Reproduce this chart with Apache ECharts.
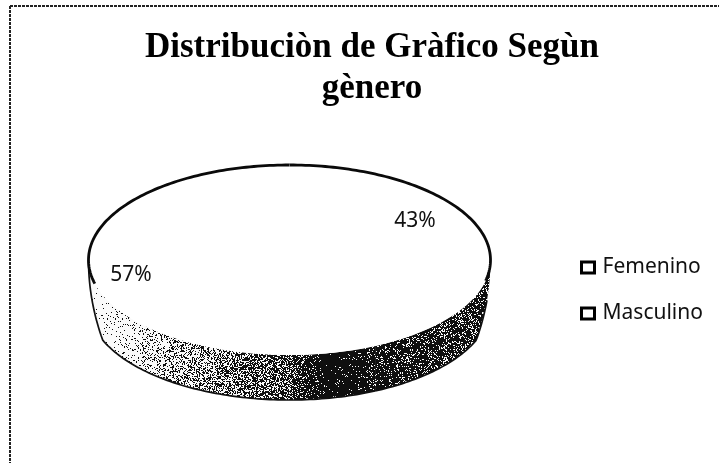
<!DOCTYPE html>
<html><head><meta charset="utf-8">
<style>html,body{margin:0;padding:0;background:#fff}#c{width:719px;height:463px}</style>
<script src="https://cdn.jsdelivr.net/npm/echarts@6/dist/echarts.min.js"></script>
</head><body><div id="c"></div>
<script>
const categories = ['Femenino', 'Masculino'];
const shares = [43, 57];
const shareLabels = ['43%', '57%'];
const titleText = 'Distribuciòn de Gràfico Segùn\ngènero';

// layout / style only
const CX = 289.5, CY = 260, RX = 201, RY = 95, DEPTH = 45;
const LABEL_POS = [[415, 221], [131, 275]];
const SHADE_X = [80, 110, 135, 170, 230, 290, 325, 400, 470, 495];
const SHADE_V = [0.03, 0.06, 0.14, 0.3, 0.52, 0.68, 0.97, 0.84, 0.76, 0.8];

function shadeAt(x) {
  for (let i = 1; i < SHADE_X.length; i++) {
    if (x <= SHADE_X[i]) {
      const t = (x - SHADE_X[i - 1]) / (SHADE_X[i] - SHADE_X[i - 1]);
      return SHADE_V[i - 1] + Math.max(0, t) * (SHADE_V[i] - SHADE_V[i - 1]);
    }
  }
  return SHADE_V[SHADE_V.length - 1];
}
// stippled scan texture (a fixed hash, purely a fill texture)
function stipple() {
  const cv = document.createElement('canvas');
  cv.width = 719; cv.height = 463;
  const g = cv.getContext('2d');
  const im = g.createImageData(719, 463);
  for (let y = 0; y < 463; y++) for (let x = 0; x < 719; x++) {
    const h = Math.abs(Math.sin(x * 12.9898 + y * 78.233) * 43758.5453) % 1;
    const c = h < shadeAt(x) ? 15 : 250;
    const k = (y * 719 + x) * 4;
    im.data[k] = im.data[k + 1] = im.data[k + 2] = c; im.data[k + 3] = 255;
  }
  g.putImageData(im, 0, 0);
  return cv;
}
const wallFill = { image: stipple(), repeat: 'no-repeat' };

const total = shares.reduce((a, b) => a + b, 0);
const TAPER = 0.12 * Math.PI;
// wall height grows smoothly away from the two ends of the front rim
function wallDepth(a) {
  const d = Math.min(a - Math.PI / 2, 3 * Math.PI / 2 - a);
  return DEPTH * Math.max(0, Math.min(1, d / TAPER));
}
function pt(a, dy) { return [CX + RX * Math.sin(a), CY - RY * Math.cos(a) + (dy || 0)]; }
function arcPts(a0, a1, dyFn) {
  const n = Math.max(2, Math.ceil(Math.abs(a1 - a0) / 0.02)), out = [];
  for (let i = 0; i <= n; i++) {
    const a = a0 + (a1 - a0) * i / n;
    out.push(pt(a, dyFn ? dyFn(a) : 0));
  }
  return out;
}
function renderSlice(idx) {
  return function (params, api) {
    const before = shares.slice(0, idx).reduce((a, b) => a + b, 0);
    const a0 = before / total * 2 * Math.PI;
    const a1 = a0 + api.value(0) / total * 2 * Math.PI;
    const kids = [];
    const w0 = Math.max(a0, Math.PI / 2), w1 = Math.min(a1, 3 * Math.PI / 2);
    if (w1 > w0) {
      kids.push({ type: 'polygon', shape: { points: arcPts(w0, w1).concat(arcPts(w1, w0, wallDepth)) },
        style: { fill: wallFill, stroke: null } });
      kids.push({ type: 'polyline', shape: { points: arcPts(Math.max(w0, 0.56 * Math.PI), w1, wallDepth) },
        style: { fill: null, stroke: '#111', lineWidth: 1.7 } });
    }
    // top face
    kids.push({ type: 'polygon', shape: { points: [[CX, CY]].concat(arcPts(a0, a1)) },
      style: { fill: '#fff', stroke: null } });
    // heavy rim on the back of the ellipse
    const splitR = Math.PI * 0.57, splitL = Math.PI * 1.42;
    const segs = [[a0, Math.min(a1, splitR)], [Math.max(a0, splitL), a1]];
    segs.forEach(s => { if (s[1] > s[0]) kids.push({ type: 'polyline', shape: { points: arcPts(s[0], s[1]) },
      style: { fill: null, stroke: '#0a0a0a', lineWidth: 2.8 } }); });
    kids.push({ type: 'text', style: { text: shareLabels[idx], x: LABEL_POS[idx][0], y: LABEL_POS[idx][1],
      align: 'center', verticalAlign: 'middle', fill: '#111', font: '21px "Noto Sans"' } });
    return { type: 'group', children: kids };
  };
}

const chart = echarts.init(document.getElementById('c'), null, { renderer: 'canvas' });
chart.setOption({
  animation: false,
  backgroundColor: '#fff',
  title: { text: titleText, left: 367, top: 22, textAlign: 'center',
    textStyle: { fontFamily: '"Liberation Serif"', fontWeight: 'bold', fontSize: 35, lineHeight: 41.5, color: '#000' } },
  legend: { orient: 'vertical', left: 575, top: 252, itemWidth: 13, itemHeight: 11, itemGap: 25, itemStyle: { borderWidth: 3 },
    data: categories.map(n => ({ name: n, icon: 'rect' })),
    textStyle: { fontFamily: '"Noto Sans"', fontSize: 21, color: '#111', padding: [0, 0, 0, 3] } },
  graphic: [
    { type: 'line', silent: true, shape: { x1: 10, y1: 6, x2: 719, y2: 6 }, style: { stroke: '#222', lineWidth: 2, lineDash: [3, 1] } },
    { type: 'line', silent: true, shape: { x1: 10, y1: 6, x2: 10, y2: 463 }, style: { stroke: '#222', lineWidth: 2, lineDash: [3, 1] } }
  ],
  series: categories.map((name, i) => ({
    type: 'custom', name, coordinateSystem: 'none', silent: true,
    itemStyle: { color: '#fff', borderColor: '#000', borderWidth: 3 },
    data: [[shares[i]]],
    renderItem: renderSlice(i)
  }))
});
</script></body></html>
